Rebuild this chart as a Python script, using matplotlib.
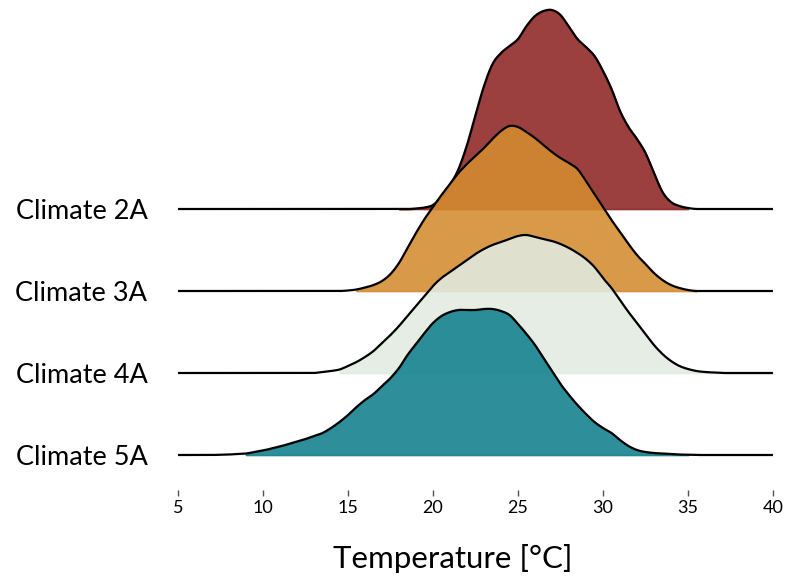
import numpy as np
import matplotlib
matplotlib.use("Agg")
import matplotlib.pyplot as plt

# temperature grid (deg C) shared by all ridges
temps = np.arange(5, 40.5, 0.5)

climates = ["Climate 2A", "Climate 3A", "Climate 4A", "Climate 5A"]
colors = ["#8d2523", "#d38c2f", "#e2ebe2", "#11808d"]

# ridge heights (arbitrary units), one value per 0.5 deg C from 5 to 40
dens_2a = [0] * 28 + [0.5, 1.5, 4, 12, 24, 40, 64, 94, 123, 145, 156, 163, 170, 183, 193,
                     198, 199, 194, 182, 170, 162, 153, 138, 120, 98, 82, 70, 56, 36, 17,
                     7, 3, 1, 0] + [0] * 9
dens_3a = [0] * 20 + [0.5, 1.5, 3.5, 6, 10, 17, 28, 43, 58, 72, 84, 96, 107, 118, 127,
                     135, 143, 152, 160, 165, 164, 159, 153, 146, 139, 133, 128, 122, 110, 97,
                     84, 71, 59, 47, 36, 27, 18, 11, 6, 3, 1, 0] + [0] * 9
dens_4a = [0] * 17 + [1, 2, 3.5, 7, 11, 16, 22, 30, 38, 47, 57, 67, 77, 87, 95,
                     101, 107, 113, 119, 124, 128, 131, 134, 137, 138, 136, 134, 132, 129, 125,
                     120, 114, 106, 95, 85, 73, 61, 50, 39, 28, 19, 12, 7, 4, 2,
                     1, 0.5] + [0] * 7
dens_5a = [0] * 4 + [0, 0.3, 0.5, 1, 1.5, 3, 4.5, 6.5, 8.5, 11, 13.5, 16, 19, 22, 27,
                    33, 40, 48, 55, 61, 69, 77, 87, 100, 111, 122, 132, 139, 143, 145,
                    145, 145, 146, 146, 144, 140, 131, 121, 110, 97, 84, 71, 60, 50, 41,
                    33, 27, 22, 15, 9, 5, 3, 2, 1.5, 1, 0.5, 0.3] + [0] * 10
densities = [dens_2a, dens_3a, dens_4a, dens_5a]

# range of each coloured fill (deg C)
fill_lo = [18, 15.5, 14.5, 9]
fill_hi = [35, 35.5, 40, 35]

xticks = [5, 10, 15, 20, 25, 30, 35, 40]

ridge_scale = 1 / 82.0


def smooth(x, y, n=8):
    # catmull-rom through the read points, only to draw a smooth outline
    x = np.asarray(x, float)
    y = np.asarray(y, float)
    yp = np.concatenate([[y[0]], y, [y[-1]]])
    xs, ys = [], []
    t = np.linspace(0, 1, n, endpoint=False)
    for k in range(len(x) - 1):
        p0, p1, p2, p3 = yp[k], yp[k + 1], yp[k + 2], yp[k + 3]
        seg = 0.5 * (2 * p1 + (-p0 + p2) * t + (2 * p0 - 5 * p1 + 4 * p2 - p3) * t ** 2
                     + (-p0 + 3 * p1 - 3 * p2 + p3) * t ** 3)
        xs.append(x[k] + (x[k + 1] - x[k]) * t)
        ys.append(seg)
    xs.append([x[-1]])
    ys.append([y[-1]])
    return np.concatenate(xs), np.clip(np.concatenate(ys), 0, None)


plt.rcParams['font.family'] = ['Lato', 'DejaVu Sans']

fig = plt.figure(figsize=(7.88, 5.81), dpi=100)
ax = fig.add_axes([0.2259, 0.1566, 0.755, 0.8348])

for i, (name, dens, col) in enumerate(zip(climates, densities, colors)):
    base = -i
    xs, hs = smooth(temps, np.array(dens) * ridge_scale)
    m = (xs >= fill_lo[i]) & (xs <= fill_hi[i])
    ax.fill_between(xs[m], base, base + hs[m], facecolor=col, edgecolor=col,
                    alpha=0.88, lw=1.2, zorder=2 * i + 1)
    ax.plot(xs, base + hs, color="black", lw=1.6, zorder=2 * i + 2,
            solid_capstyle="butt")

ax.set_xlim(5, 40)
ax.set_ylim(-3.427, 2.488)
ax.set_yticks([0, -1, -2, -3])
ax.set_yticklabels(climates, fontsize=19.5)
ax.tick_params(axis="y", length=0, pad=22)
ax.set_xticks(xticks)
ax.set_xticklabels([str(t) for t in xticks], fontsize=13)
ax.tick_params(axis="x", length=4, width=1, color="#555555", pad=3)
ax.set_xlabel("Temperature [°C]", fontsize=22.5, labelpad=20)
ax.xaxis.label.set_x(0.462)
for s in ax.spines.values():
    s.set_visible(False)

fig.savefig("out.png", dpi=100)
